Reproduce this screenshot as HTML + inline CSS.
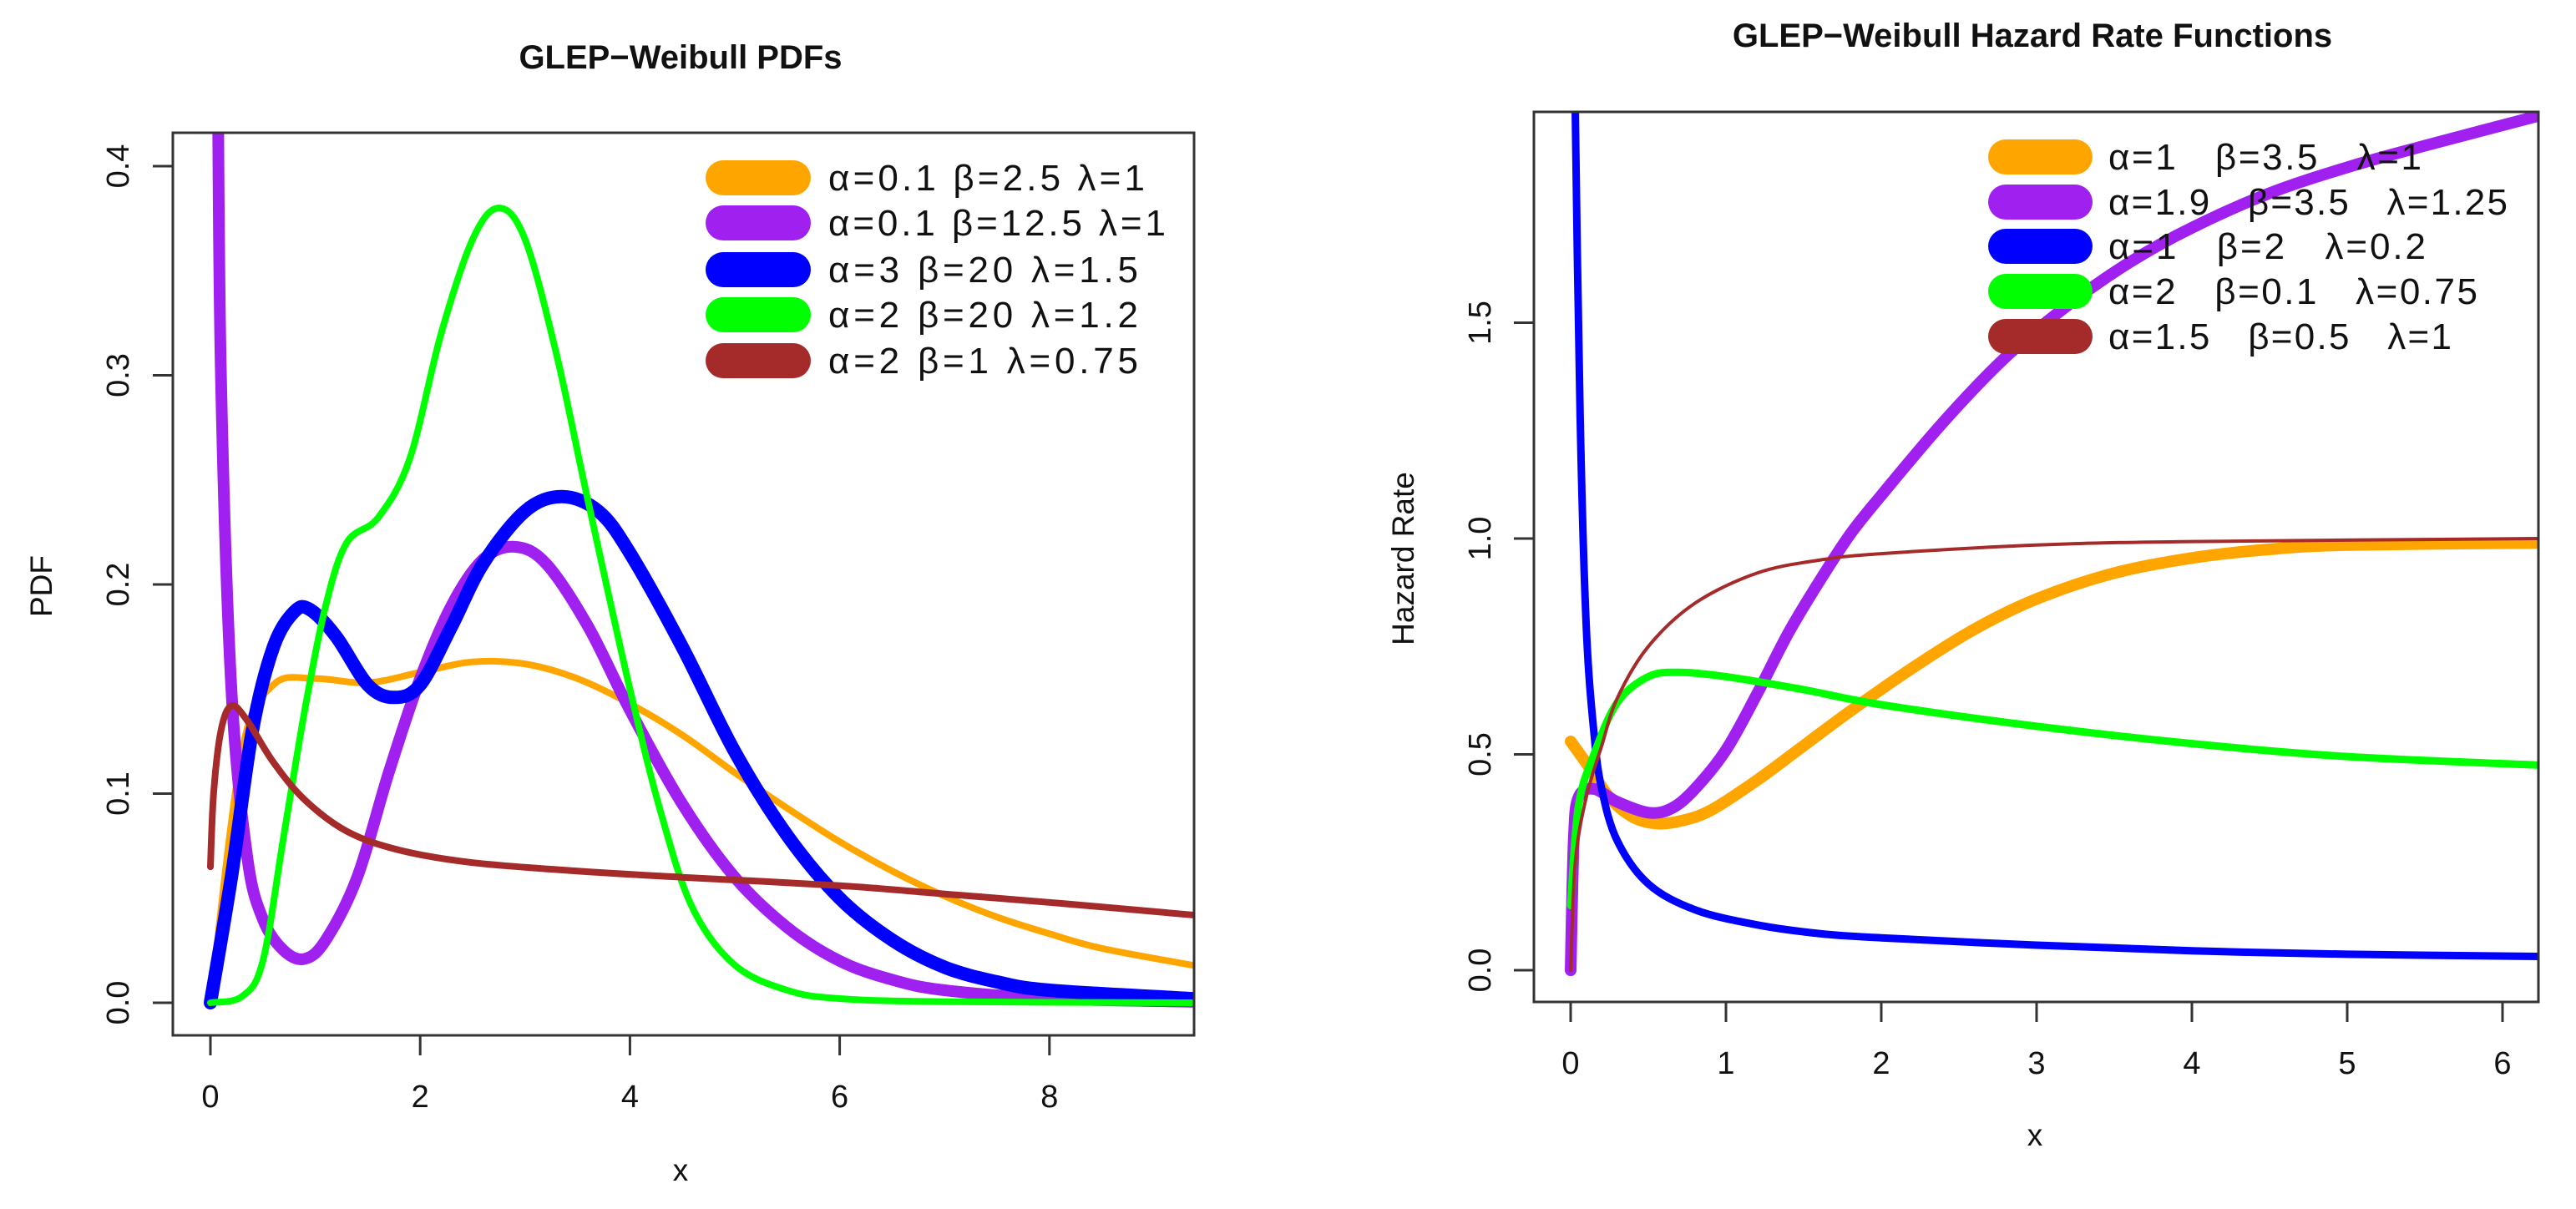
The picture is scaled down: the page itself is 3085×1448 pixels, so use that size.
<!DOCTYPE html>
<html><head><meta charset="utf-8">
<style>
html,body{margin:0;padding:0;background:#fff;}
svg{display:block;}
text{font-family:"Liberation Sans",sans-serif;fill:#111;}
</style></head>
<body>
<svg id="chart" width="3085" height="1448" viewBox="0 0 3085 1448" xmlns="http://www.w3.org/2000/svg">
<rect x="0" y="0" width="3085" height="1448" fill="#fff"/>
</svg>
<script>
// ---------- Left panel data (PDFs) ----------
const pdfXTicks = [0, 2, 4, 6, 8];
const pdfYTicks = [0.0, 0.1, 0.2, 0.3, 0.4];
const pdfYTickLabels = ["0.0", "0.1", "0.2", "0.3", "0.4"];
const pdfLegend = ["α=0.1 β=2.5 λ=1", "α=0.1 β=12.5 λ=1", "α=3 β=20 λ=1.5", "α=2 β=20 λ=1.2", "α=2 β=1 λ=0.75"];
const pdfOrangeX = [0, 0.3, 0.6, 1, 1.5, 2, 2.5, 3, 3.5, 4, 4.5, 5, 5.5, 6, 6.5, 7, 7.5, 8, 8.5, 9.36];
const pdfOrangeY = [0, 0.12, 0.152, 0.155, 0.153, 0.158, 0.163, 0.162, 0.155, 0.143, 0.128, 0.11, 0.093, 0.077, 0.063, 0.051, 0.041, 0.033, 0.026, 0.018];
const pdfPurpleX = [0.07, 0.1, 0.2, 0.35, 0.5, 0.7, 0.9, 1.1, 1.4, 1.7, 2, 2.3, 2.6, 2.9, 3.2, 3.6, 4, 4.5, 5, 5.5, 6, 6.5, 7, 8, 9.36];
const pdfPurpleY = [0.45, 0.3, 0.15, 0.07, 0.04, 0.025, 0.021, 0.03, 0.06, 0.11, 0.155, 0.19, 0.212, 0.218, 0.21, 0.18, 0.14, 0.095, 0.06, 0.036, 0.02, 0.011, 0.006, 0.002, 0.0005];
const pdfBlueX = [0, 0.2, 0.4, 0.6, 0.8, 0.95, 1.2, 1.5, 1.75, 2, 2.3, 2.6, 3, 3.35, 3.7, 4, 4.5, 5, 5.5, 6, 6.5, 7, 7.5, 8, 9.36];
const pdfBlueY = [0, 0.06, 0.13, 0.17, 0.187, 0.188, 0.175, 0.152, 0.146, 0.152, 0.18, 0.21, 0.235, 0.242, 0.235, 0.215, 0.17, 0.12, 0.08, 0.05, 0.03, 0.017, 0.01, 0.006, 0.002];
const pdfGreenX = [0, 0.3, 0.5, 0.7, 0.9, 1.1, 1.3, 1.6, 1.9, 2.2, 2.5, 2.75, 3, 3.3, 3.6, 4, 4.3, 4.6, 5, 5.5, 6, 7, 9.36];
const pdfGreenY = [0, 0.003, 0.02, 0.08, 0.14, 0.19, 0.22, 0.232, 0.26, 0.32, 0.365, 0.38, 0.365, 0.31, 0.24, 0.15, 0.09, 0.045, 0.018, 0.006, 0.002, 0.0005, 0];
const pdfBrownX = [0, 0.03, 0.1, 0.2, 0.35, 0.6, 0.9, 1.3, 1.8, 2.5, 3.5, 4.5, 6, 7, 8, 9.36];
const pdfBrownY = [0.065, 0.1, 0.13, 0.142, 0.135, 0.115, 0.097, 0.082, 0.073, 0.067, 0.063, 0.06, 0.056, 0.052, 0.048, 0.042];

// ---------- Right panel data (hazard) ----------
const hzXTicks = [0, 1, 2, 3, 4, 5, 6];
const hzYTicks = [0.0, 0.5, 1.0, 1.5];
const hzYTickLabels = ["0.0", "0.5", "1.0", "1.5"];
const hzLegend = ["α=1   β=3.5   λ=1", "α=1.9   β=3.5   λ=1.25", "α=1   β=2   λ=0.2", "α=2   β=0.1   λ=0.75", "α=1.5   β=0.5   λ=1"];
const hzOrangeX = [0, 0.1, 0.25, 0.4, 0.55, 0.7, 0.9, 1.2, 1.5, 1.8, 2.2, 2.6, 3, 3.5, 4, 4.5, 5, 6.24];
const hzOrangeY = [0.53, 0.48, 0.4, 0.355, 0.34, 0.345, 0.37, 0.44, 0.52, 0.6, 0.7, 0.79, 0.86, 0.92, 0.955, 0.975, 0.985, 0.99];
const hzPurpleX = [0, 0.02, 0.05, 0.15, 0.3, 0.5, 0.65, 0.8, 1, 1.2, 1.4, 1.6, 1.8, 2, 2.4, 2.8, 3.2, 3.6, 4, 4.5, 5, 5.5, 6.24];
const hzPurpleY = [0, 0.3, 0.4, 0.42, 0.39, 0.365, 0.375, 0.42, 0.51, 0.64, 0.78, 0.9, 1.01, 1.1, 1.27, 1.42, 1.54, 1.64, 1.72, 1.8, 1.86, 1.91, 1.98];
const hzBlueX = [0.025, 0.06, 0.1, 0.15, 0.2, 0.3, 0.5, 0.8, 1.2, 1.6, 2, 3, 4, 5, 6.24];
const hzBlueY = [2.1, 1.3, 0.8, 0.55, 0.42, 0.3, 0.2, 0.14, 0.105, 0.085, 0.075, 0.058, 0.045, 0.037, 0.032];
const hzGreenX = [0, 0.05, 0.15, 0.3, 0.5, 0.7, 1, 1.5, 2, 3, 4, 5, 6.24];
const hzGreenY = [0.15, 0.38, 0.5, 0.62, 0.68, 0.69, 0.68, 0.65, 0.615, 0.565, 0.525, 0.495, 0.475];
const hzBrownX = [0, 0.03, 0.1, 0.2, 0.3, 0.5, 0.8, 1.2, 1.6, 2, 3, 4, 6.24];
const hzBrownY = [0, 0.25, 0.4, 0.52, 0.63, 0.75, 0.85, 0.92, 0.95, 0.965, 0.985, 0.993, 1.0];

const NS = "http://www.w3.org/2000/svg";
const svg = document.getElementById("chart");
function mk(tag, attrs, parent) {
  const e = document.createElementNS(NS, tag);
  for (const k in attrs) e.setAttribute(k, attrs[k]);
  (parent || svg).appendChild(e);
  return e;
}
function pathFrom(xs, ys, sx, sy) {
  const p = xs.map((x, i) => [sx(x), sy(ys[i])]);
  let d = "M" + p[0][0].toFixed(1) + "," + p[0][1].toFixed(1);
  for (let i = 0; i < p.length - 1; i++) {
    const p0 = p[Math.max(0, i - 1)], p1 = p[i], p2 = p[i + 1], p3 = p[Math.min(p.length - 1, i + 2)];
    const c1x = p1[0] + (p2[0] - p0[0]) / 6, c1y = p1[1] + (p2[1] - p0[1]) / 6;
    const c2x = p2[0] - (p3[0] - p1[0]) / 6, c2y = p2[1] - (p3[1] - p1[1]) / 6;
    d += " C" + c1x.toFixed(1) + "," + c1y.toFixed(1) + " " + c2x.toFixed(1) + "," + c2y.toFixed(1) + " " + p2[0].toFixed(1) + "," + p2[1].toFixed(1);
  }
  return d;
}

function panel(cfg) {
  const g = mk("g", {});
  
  
  const sx = v => cfg.x0px + (v - 0) * cfg.xppu;
  const sy = v => cfg.y0px - v * cfg.yppu;
  const clipId = cfg.name + "-clip";
  const cp = mk("clipPath", { id: clipId }, g);
  mk("rect", { x: cfg.L, y: cfg.T, width: cfg.R - cfg.L, height: cfg.B - cfg.T }, cp);

  const title = mk("text", { x: cfg.titleX, y: cfg.titleY, "text-anchor": "middle", "font-size": 40, "font-weight": "bold" }, g);
  title.textContent = cfg.title;
  
  

  const sg = mk("g", { "clip-path": "url(#" + clipId + ")" }, g);
  cfg.series.forEach(s => {
    const path = mk("path", { d: pathFrom(s.xs, s.ys, sx, sy), fill: "none", stroke: s.color, "stroke-width": s.w, "stroke-linecap": "round", "stroke-linejoin": "round" }, sg);
    
    
  });

  const frame = mk("rect", { x: cfg.L, y: cfg.T, width: cfg.R - cfg.L, height: cfg.B - cfg.T, fill: "none", stroke: "#333", "stroke-width": 3 }, g);
  
  

  cfg.xTicks.forEach(t => {
    const x = sx(t);
    const tk = mk("line", { x1: x, y1: cfg.B, x2: x, y2: cfg.B + 24, stroke: "#333", "stroke-width": 3 }, g);
    
    
    const lb = mk("text", { x: x, y: cfg.xLabY, "text-anchor": "middle", "font-size": 38 }, g);
    lb.textContent = String(t);
    
    
  });
  cfg.yTicks.forEach((t, i) => {
    const y = sy(t);
    const tk = mk("line", { x1: cfg.L, y1: y, x2: cfg.L - 24, y2: y, stroke: "#333", "stroke-width": 3 }, g);
    
    
    const lb = mk("text", { x: 0, y: 0, "text-anchor": "middle", "font-size": 38, transform: "translate(" + (cfg.yLabX) + "," + y + ") rotate(-90)" }, g);
    lb.textContent = cfg.yTickLabels[i];
    
    
  });

  const xt = mk("text", { x: cfg.xTitleX, y: cfg.xTitleY, "text-anchor": "middle", "font-size": 37 }, g);
  xt.textContent = "x";
  
  
  const yt = mk("text", { x: 0, y: 0, "text-anchor": "middle", "font-size": 37, transform: "translate(" + cfg.yTitleX + "," + cfg.yTitleY + ") rotate(-90)" }, g);
  yt.textContent = cfg.yTitle;
  
  

  const lg = mk("g", {}, g);
  
  
  cfg.series.forEach((s, i) => {
    const y = cfg.legRows[i];
    const sw = mk("line", { x1: cfg.swX1, y1: y, x2: cfg.swX2, y2: y, stroke: s.color, "stroke-width": 42, "stroke-linecap": "round" }, lg);
    
    
    const tx = mk("text", { x: cfg.legTextX, y: y + 15, "font-size": 44, textLength: cfg.legEnds[i] - cfg.legTextX, lengthAdjust: "spacing", "xml:space": "preserve", style: "white-space:pre" }, lg);
    tx.textContent = cfg.legend[i];
    
    
  });
}

panel({
  name: "pdf-panel", title: "GLEP\u2212Weibull PDFs", titleX: 815, titleY: 82,
  L: 207, R: 1430, T: 159, B: 1240,
  x0px: 252, xppu: 125.6, y0px: 1201, yppu: 2505,
  xTicks: pdfXTicks, yTicks: pdfYTicks, yTickLabels: pdfYTickLabels,
  xLabY: 1326, yLabX: 154, xTitleX: 815, xTitleY: 1414, yTitleX: 62, yTitleY: 702, yTitle: "PDF",
  legend: pdfLegend, legRows: [213, 267, 323, 377, 432], swX1: 866, swX2: 950, legTextX: 992,
  legEnds: [1371, 1396, 1363, 1363, 1363],
  series: [
    { name: "pdf-orange-line", xs: pdfOrangeX, ys: pdfOrangeY, color: "#FFA500", w: 8 },
    { name: "pdf-purple-line", xs: pdfPurpleX, ys: pdfPurpleY, color: "#A020F0", w: 14 },
    { name: "pdf-blue-line", xs: pdfBlueX, ys: pdfBlueY, color: "#0000FF", w: 16 },
    { name: "pdf-green-line", xs: pdfGreenX, ys: pdfGreenY, color: "#00FF00", w: 8 },
    { name: "pdf-brown-line", xs: pdfBrownX, ys: pdfBrownY, color: "#A52A2A", w: 8 }
  ]
});

panel({
  name: "hazard-panel", title: "GLEP\u2212Weibull Hazard Rate Functions", titleX: 2434, titleY: 56,
  L: 1837, R: 3040, T: 134, B: 1200,
  x0px: 1881, xppu: 186, y0px: 1162, yppu: 517,
  xTicks: hzXTicks, yTicks: hzYTicks, yTickLabels: hzYTickLabels,
  xLabY: 1286, yLabX: 1785, xTitleX: 2437, xTitleY: 1372, yTitleX: 1693, yTitleY: 669, yTitle: "Hazard Rate",
  legend: hzLegend, legRows: [188, 242, 295, 349, 403], swX1: 2402, swX2: 2485, legTextX: 2525,
  legEnds: [2900, 3003, 2905, 2967, 2936],
  series: [
    { name: "hazard-orange-line", xs: hzOrangeX, ys: hzOrangeY, color: "#FFA500", w: 14 },
    { name: "hazard-purple-line", xs: hzPurpleX, ys: hzPurpleY, color: "#A020F0", w: 14 },
    { name: "hazard-blue-line", xs: hzBlueX, ys: hzBlueY, color: "#0000FF", w: 9 },
    { name: "hazard-green-line", xs: hzGreenX, ys: hzGreenY, color: "#00FF00", w: 9 },
    { name: "hazard-brown-line", xs: hzBrownX, ys: hzBrownY, color: "#A52A2A", w: 4 }
  ]
});
</script>
</body></html>
